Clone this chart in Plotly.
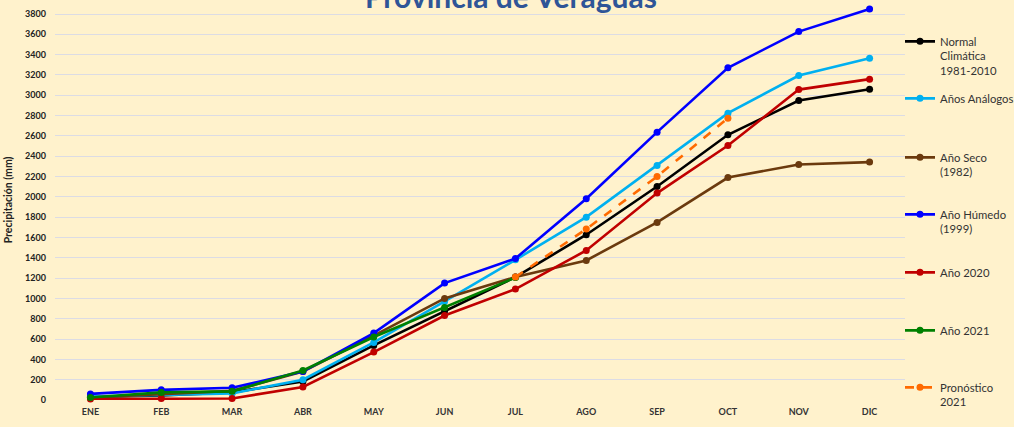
import plotly.graph_objects as go

meses = ["ENE", "FEB", "MAR", "ABR", "MAY", "JUN", "JUL", "AGO", "SEP", "OCT", "NOV", "DIC"]

normal = [30, 45, 75, 183, 537, 875, 1210, 1627, 2102, 2611, 2948, 3060]
analogos = [35, 50, 65, 200, 567, 970, 1380, 1800, 2309, 2824, 3194, 3365]
seco = [25, 60, 90, 280, 633, 1000, 1210, 1374, 1748, 2190, 2318, 2342]
humedo = [60, 100, 120, 280, 659, 1151, 1393, 1981, 2637, 3270, 3627, 3850]
a2020 = [10, 15, 15, 128, 472, 832, 1092, 1472, 2037, 2505, 3056, 3159]
a2021 = [25, 75, 85, 290, 620, 911, 1205]
pron_meses = ["JUL", "AGO", "SEP", "OCT"]
pronostico = [1210, 1683, 2200, 2775]

ytick_vals = list(range(0, 3801, 200))

series = [
    ("Normal<br>Climática<br>1981-2010", meses, normal, "#000000", "solid"),
    ("Años Análogos", meses, analogos, "#00B0F0", "solid"),
    ("Año Seco<br>(1982)", meses, seco, "#6B3A0E", "solid"),
    ("Año Húmedo<br>(1999)", meses, humedo, "#0000FF", "solid"),
    ("Año 2020", meses, a2020, "#C00000", "solid"),
    ("Año 2021", meses[:len(a2021)], a2021, "#008000", "solid"),
    ("Pronóstico<br>2021", pron_meses, pronostico, "#FF6A00", "dash"),
]

legend_tops = [27.5, 84.5, 143.5, 200.5, 258.5, 316.5, 373.5]

fig = go.Figure()
for i, (name, xs, ys, color, dash) in enumerate(series):
    lg = "legend" if i == 0 else f"legend{i+1}"
    fig.add_trace(go.Scatter(
        x=xs, y=ys, name=name, mode="lines+markers",
        line=dict(color=color, width=2.6, dash=dash),
        marker=dict(color=color, size=7),
        legend=lg, cliponaxis=False,
    ))

PLOT_H = 400.0
PLOT_W = 850.0
layout_legends = {}
for i, top in enumerate(legend_tops):
    key = "legend" if i == 0 else f"legend{i+1}"
    layout_legends[key] = dict(
        x=1 - 5 / PLOT_W, xanchor="left", y=1 - top / PLOT_H, yanchor="top",
        bgcolor="rgba(0,0,0,0)", borderwidth=0,
        font=dict(family="Lato", size=11.3, color="#333333"),
        valign="top", itemwidth=30, tracegroupgap=0,
    )

fig.update_layout(
    width=1014, height=427,
    margin=dict(l=55, r=109, t=0, b=27, autoexpand=False),
    paper_bgcolor="#FFF2CC", plot_bgcolor="#FFF2CC",
    showlegend=True,
    xaxis=dict(
        type="category", categoryorder="array", categoryarray=meses,
        range=[-0.5, 11.5], showgrid=False, showline=False, zeroline=False,
        tickfont=dict(family="Lato", size=9, color="#333333", weight="bold"),
        ticks="", automargin=False, ticklabelstandoff=5,
    ),
    yaxis=dict(
        range=[0, 3938], tickvals=ytick_vals, showgrid=True,
        gridcolor="#DCDCE4", gridwidth=1.3, zeroline=False, showline=False,
        tickfont=dict(family="Lato", size=9, color="#222222", weight="bold"),
        ticks="", automargin=False, ticklabelstandoff=8,
        title=dict(text="Precipitación (mm)", standoff=10,
                   font=dict(family="Lato", size=10.5, color="#222222", weight="bold")),
    ),
    annotations=[
        dict(text="<b>Provincia de Veraguas</b>", xref="paper", yref="paper",
             x=0.536, y=1 - 16 / PLOT_H, xanchor="center", yanchor="bottom",
             showarrow=False, font=dict(family="Lato", size=30, color="#2F5597")),
        dict(text="<b>Meses</b>", xref="paper", yref="paper",
             x=0.471, y=-22 / PLOT_H, xanchor="center", yanchor="top",
             showarrow=False, font=dict(family="Lato", size=12, color="#222222")),
    ],
    **layout_legends,
)

fig.write_html("out.html", config={"displayModeBar": False},
               post_script="document.body.style.margin='0';")
